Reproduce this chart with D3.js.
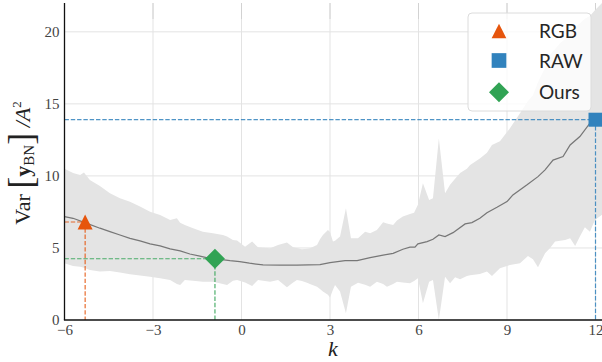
<!DOCTYPE html>
<html>
<head>
<meta charset="utf-8">
<script src="https://cdn.jsdelivr.net/npm/d3@7"></script>
<style>
  html, body { margin: 0; padding: 0; background: #fff; }
  svg { display: block; }
</style>
</head>
<body>
<svg id="chart" width="602" height="362"></svg>
<script>
// Spread of the variance across k (shaded band)
const bandK = [-6.0, -5.71, -5.47, -5.34, -5.14, -4.80, -4.46, -4.12, -3.78, -3.44, -3.10, -2.76, -2.42, -2.19, -2.08, -1.92, -1.64, -1.31, -0.97, -0.63, -0.49, -0.29, -0.15, 0.12, 0.36, 0.56, 0.97, 1.24, 1.54, 1.75, 1.88, 2.05, 2.22, 2.32, 2.56, 2.66, 2.76, 2.93, 3.0, 3.10, 3.17, 3.34, 3.54, 3.71, 3.95, 4.19, 4.36, 4.59, 4.80, 4.93, 5.14, 5.27, 5.47, 5.71, 5.85, 5.98, 6.15, 6.36, 6.49, 6.69, 6.90, 7.07, 7.24, 7.41, 7.64, 7.75, 8.08, 8.32, 8.49, 8.76, 9.10, 9.44, 9.71, 9.88, 10.05, 10.29, 10.46, 10.63, 10.80, 10.97, 11.14, 11.31, 11.47, 11.64, 11.81, 11.98, 12.22];
const bandUpper = [10.5, 10.2, 10.07, 10.23, 9.72, 9.3, 8.8, 8.45, 8.2, 7.87, 7.52, 7.29, 6.94, 7.06, 6.75, 6.6, 6.37, 6.13, 6.02, 5.9, 5.8, 5.56, 5.51, 5.09, 5.44, 5.05, 4.98, 5.21, 5.37, 5.05, 5.0, 4.91, 4.95, 4.98, 5.21, 5.6, 5.9, 6.25, 6.1, 5.44, 5.5, 5.79, 7.75, 5.67, 5.67, 6.13, 6.02, 6.25, 6.78, 6.7, 6.6, 6.9, 7.18, 7.36, 7.45, 8.0, 9.49, 8.33, 8.45, 12.6, 8.8, 9.38, 9.8, 10.2, 10.5, 10.76, 11.2, 11.6, 12.15, 12.4, 13.3, 14.35, 15.2, 15.6, 16.5, 17.5, 18.4, 18.8, 19.2, 19.5, 19.9, 20.3, 20.6, 20.9, 21.1, 21.5, 22.0];
const bandLower = [3.94, 3.75, 3.7, 3.62, 3.47, 3.36, 3.4, 3.29, 3.17, 3.08, 3.0, 2.9, 2.78, 2.5, 2.43, 2.78, 2.73, 2.66, 2.66, 2.5, 2.43, 2.73, 2.78, 2.6, 2.36, 2.78, 2.66, 2.78, 2.27, 2.6, 2.78, 2.7, 2.59, 2.5, 2.31, 2.15, 1.97, 1.75, 1.57, 2.1, 2.43, 1.97, 0.46, 2.31, 2.59, 2.45, 2.31, 2.66, 2.5, 2.31, 2.5, 2.66, 2.6, 2.55, 2.7, 2.9, 1.16, 2.66, 2.78, 0.0, 3.0, 2.55, 2.96, 2.82, 3.05, 3.1, 3.19, 3.36, 3.05, 3.59, 3.82, 3.94, 4.44, 4.21, 3.66, 4.63, 5.0, 5.44, 5.5, 5.56, 5.67, 5.14, 5.8, 6.44, 6.13, 6.94, 7.3];

// Mean variance across k (grey curve)
const meanK = [-6.0, -5.71, -5.24, -4.80, -4.46, -4.12, -3.78, -3.44, -3.10, -2.76, -2.42, -2.08, -1.75, -1.41, -1.08, -0.73, -0.39, -0.06, 0.27, 0.73, 1.31, 1.88, 2.66, 3.0, 3.51, 3.92, 4.36, 4.80, 5.14, 5.47, 5.71, 5.88, 5.98, 6.29, 6.49, 6.69, 6.90, 7.17, 7.58, 7.81, 8.08, 8.32, 8.66, 9.0, 9.20, 9.68, 10.05, 10.29, 10.56, 10.90, 11.14, 11.47, 11.81, 12.0];
const meanVar = [7.18, 7.06, 6.71, 6.37, 6.13, 5.9, 5.67, 5.49, 5.28, 5.14, 4.93, 4.79, 4.58, 4.44, 4.28, 4.21, 4.12, 4.05, 3.94, 3.82, 3.8, 3.8, 3.84, 3.98, 4.12, 4.12, 4.33, 4.51, 4.63, 4.91, 5.05, 5.05, 5.28, 5.44, 5.6, 5.9, 5.79, 6.06, 6.67, 6.76, 7.06, 7.45, 7.82, 8.22, 8.68, 9.38, 9.95, 10.42, 11.1, 11.34, 12.15, 12.73, 13.66, 13.9];

// Operating points of the three methods
const methods = ["RGB", "RAW", "Ours"];
const methodK = [-5.3, 12, -0.9];
const methodVar = [6.8, 13.9, 4.25];
const methodColors = ["#e6550d", "#3182bd", "#31a354"];

// Marker shapes: isosceles triangle (as wide as tall), square, and a square turned 45°
const symbolTri = {
  draw(ctx, size) {
    const r = Math.sqrt(size) / 2;
    ctx.moveTo(0, -r); ctx.lineTo(r, r); ctx.lineTo(-r, r); ctx.closePath();
  }
};
const symbolDia = {
  draw(ctx, size) {
    const r = Math.sqrt(size / 2);
    ctx.moveTo(0, -r); ctx.lineTo(r, 0); ctx.lineTo(0, r); ctx.lineTo(-r, 0); ctx.closePath();
  }
};
const methodShapes = [symbolTri, d3.symbolSquare, symbolDia];
const markerSizes = [225, 196, 200];
const legendSizes = [216, 216, 200];

// Axis ticks
const xTicks = [-6, -3, 0, 3, 6, 9, 12];
const yTicks = [0, 5, 10, 15, 20];

const svg = d3.select("#chart");
const plotL = 64.5, plotR = 602, plotT = 3, plotB = 320;

const x = d3.scaleLinear().domain([-6, 12.22]).range([plotL, plotR]);
const y = d3.scaleLinear().domain([0, 22]).range([plotB, plotT]);

const plot = svg.append("g");

// grid
plot.append("g").selectAll("line").data(xTicks).join("line")
  .attr("x1", d => x(d)).attr("x2", d => x(d))
  .attr("y1", plotT).attr("y2", plotB)
  .attr("stroke", "#e3e3e3").attr("stroke-width", 1);
plot.append("g").selectAll("line").data(xTicks.slice(1)).join("line")
  .attr("x1", d => x(d)).attr("x2", d => x(d))
  .attr("y1", plotT).attr("y2", plotT + 16)
  .attr("stroke", "#d2d2d2").attr("stroke-width", 1);
plot.append("g").selectAll("line").data(yTicks.slice(1)).join("line")
  .attr("x1", plotL).attr("x2", plotR)
  .attr("y1", d => y(d)).attr("y2", d => y(d))
  .attr("stroke", "#e3e3e3").attr("stroke-width", 1);

// band
const bandData = bandK.map((k, i) => ({k, lo: bandLower[i], hi: bandUpper[i]}));
plot.append("path")
  .datum(bandData)
  .attr("fill", "#e4e4e4")
  .attr("d", d3.area().x(d => x(d.k)).y0(d => y(d.lo)).y1(d => y(d.hi)));

// mean curve
const meanData = meanK.map((k, i) => ({k, v: meanVar[i]}));
plot.append("path")
  .datum(meanData)
  .attr("fill", "none")
  .attr("stroke", "#777")
  .attr("stroke-width", 1.25)
  .attr("d", d3.line().x(d => x(d.k)).y(d => y(d.v)));

// guide lines from each method point to the axes
methods.forEach((m, i) => {
  const px = x(methodK[i]), py = y(methodVar[i]);
  const g = plot.append("g")
    .attr("stroke", methodColors[i])
    .attr("stroke-width", 1.2)
    .attr("stroke-dasharray", "4.4,1.9")
    .attr("opacity", 0.85);
  g.append("line").attr("x1", plotL).attr("x2", px).attr("y1", py).attr("y2", py);
  g.append("line").attr("x1", px).attr("x2", px).attr("y1", py).attr("y2", plotB);
});

// spines
svg.append("line").attr("x1", plotL).attr("x2", plotL).attr("y1", plotT).attr("y2", plotB)
  .attr("stroke", "#111").attr("stroke-width", 1.3);
svg.append("line").attr("x1", plotL - 0.6).attr("x2", plotR).attr("y1", plotB).attr("y2", plotB)
  .attr("stroke", "#111").attr("stroke-width", 1.3);

// markers
methods.forEach((m, i) => {
  svg.append("path")
    .attr("d", d3.symbol().type(methodShapes[i]).size(markerSizes[i])())
    .attr("transform", `translate(${x(methodK[i])},${y(methodVar[i])})`)
    .attr("fill", methodColors[i]);
});

// tick labels
const tickFont = "'Liberation Serif', 'DejaVu Serif', serif";
const xAxis = svg.append("g").attr("transform", `translate(0,${plotB})`)
  .call(d3.axisBottom(x).tickValues(xTicks).tickSize(0).tickPadding(15));
xAxis.select(".domain").remove();
xAxis.selectAll("text").attr("font-family", tickFont).attr("font-size", 15).attr("fill", "#444").attr("dy", 0);

const yAxis = svg.append("g").attr("transform", `translate(${plotL},0)`)
  .call(d3.axisLeft(y).tickValues(yTicks).tickSize(0).tickPadding(5));
yAxis.select(".domain").remove();
yAxis.selectAll("text").attr("font-family", tickFont).attr("font-size", 15).attr("fill", "#444");

// x label
svg.append("text")
  .attr("x", x(3.1)).attr("y", 356)
  .attr("text-anchor", "middle")
  .attr("font-family", tickFont).attr("font-style", "italic").attr("font-size", 22)
  .attr("fill", "#222")
  .text("k");

// y label: Var[y_BN]/A^2
const yl = svg.append("text")
  .attr("transform", "translate(30,163) rotate(-90)")
  .attr("text-anchor", "middle")
  .attr("font-family", tickFont).attr("font-size", 22).attr("fill", "#222");
yl.append("tspan").text("Var ");
yl.append("tspan").attr("font-size", 36).attr("font-weight", 300).attr("dy", 3).text("[");
yl.append("tspan").attr("font-weight", "bold").attr("dy", -3).text("y");
yl.append("tspan").attr("font-size", 15).attr("dy", 4).text("BN");
yl.append("tspan").attr("font-size", 36).attr("font-weight", 300).attr("dy", -1).text("]");
yl.append("tspan").attr("font-style", "italic").attr("dy", -3).text(" /A");
yl.append("tspan").attr("font-size", 13).attr("dy", -9).text("2");

// legend
const lg = svg.append("g").attr("transform", "translate(468,13)");
lg.append("rect").attr("width", 123).attr("height", 98).attr("rx", 4)
  .attr("fill", "#fff").attr("fill-opacity", 0.8)
  .attr("stroke", "#dcdcdc").attr("stroke-width", 1);
const rowsY = [18, 47.5, 79.3];
methods.forEach((m, i) => {
  lg.append("path")
    .attr("d", d3.symbol().type(methodShapes[i]).size(legendSizes[i])())
    .attr("transform", `translate(31,${rowsY[i]})`)
    .attr("fill", methodColors[i]);
  lg.append("text")
    .attr("x", 71).attr("y", rowsY[i] + 7)
    .attr("font-family", "Lato, 'Open Sans', sans-serif").attr("font-size", 19)
    .attr("font-weight", 400)
    .attr("fill", "#262626")
    .text(m);
});
</script>
</body>
</html>
